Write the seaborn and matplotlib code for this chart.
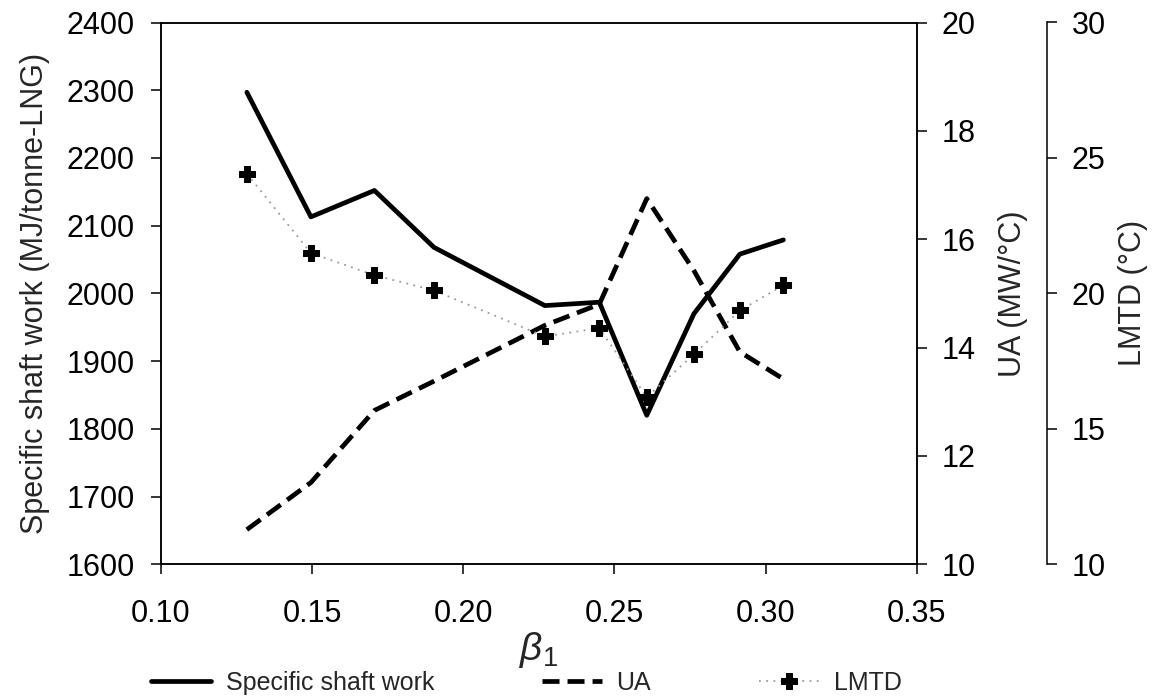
import matplotlib
matplotlib.use("Agg")
import matplotlib.pyplot as plt
import seaborn as sns
import pandas as pd

# ---- data ----
beta1 = [0.1284, 0.1496, 0.1706, 0.1903, 0.2270, 0.2450, 0.2607, 0.2763, 0.2915, 0.3059]
shaft_work = [2297, 2113, 2152, 2068, 1982, 1987, 1820, 1970, 2058, 2079]
ua = [10.64, 11.51, 12.84, 13.38, 14.41, 14.80, 16.75, 15.42, 13.92, 13.42]
lmtd = [24.42, 21.49, 20.67, 20.11, 18.41, 18.72, 16.17, 17.75, 19.37, 20.30]

x_ticks = [0.10, 0.15, 0.20, 0.25, 0.30, 0.35]
left_ticks = [1600, 1700, 1800, 1900, 2000, 2100, 2200, 2300, 2400]
ua_ticks = [10, 12, 14, 16, 18, 20]
lmtd_ticks = [10, 15, 20, 25, 30]

df = pd.DataFrame({"beta1": beta1, "shaft": shaft_work, "ua": ua, "lmtd": lmtd})

sns.set_style("ticks")
plt.rcParams["font.family"] = ["Liberation Sans", "DejaVu Sans"]
plt.rcParams["mathtext.fontset"] = "custom"
plt.rcParams["mathtext.it"] = "Liberation Sans:italic"
plt.rcParams["mathtext.rm"] = "Liberation Sans"

fs = 22
fig = plt.figure(figsize=(11.56, 7.0), dpi=100)
ax = fig.add_axes([161 / 1156, 1 - 564.3 / 700, (916.7 - 161) / 1156, (564.3 - 22.5) / 700])
ax2 = ax.twinx()
ax3 = ax.twinx()
ax3.spines["right"].set_position(("axes", (1046.7 - 161) / (916.7 - 161)))

sns.lineplot(data=df, x="beta1", y="shaft", ax=ax, color="black", lw=3.4,
             label="Specific shaft work", legend=False)
sns.lineplot(data=df, x="beta1", y="ua", ax=ax2, color="black", lw=3.4,
             label="UA", legend=False)
ax2.lines[0].set_dashes([3.6, 1.7])
ax2.lines[0].set_dash_capstyle("butt")
sns.lineplot(data=df, x="beta1", y="lmtd", ax=ax3, color="#9a9a9a", lw=1.3,
             label="LMTD", legend=False, marker="P", markersize=12,
             markerfacecolor="black", markeredgecolor="black")
ax3.lines[0].set_linestyle((0, (1, 3)))

ax.set_xlim(0.10, 0.35)
ax.set_ylim(1600, 2400)
ax2.set_ylim(10, 20)
ax3.set_ylim(10, 30)
ax.set_xticks(x_ticks)
ax.set_xticklabels([f"{v:.2f}" for v in x_ticks])
ax.set_yticks(left_ticks)
ax2.set_yticks(ua_ticks)
ax3.set_yticks(lmtd_ticks)

for a in (ax, ax2, ax3):
    a.tick_params(labelsize=fs, length=7, width=1.1, direction="out", colors="black")
    for s in a.spines.values():
        s.set_linewidth(1.1)
        s.set_color("black")
ax.tick_params(axis="x", pad=18)
ax.tick_params(axis="y", pad=12)
ax2.tick_params(axis="y", pad=11)
ax3.tick_params(axis="y", pad=11)
for s in ("left", "top", "bottom"):
    ax3.spines[s].set_visible(False)

ax.set_xlabel(r"$\beta_{\mathit{1}}$", fontsize=28, labelpad=1)
ax.set_ylabel("Specific shaft work (MJ/tonne-LNG)", fontsize=fs, labelpad=12)
ax2.set_ylabel("UA (MW/°C)", fontsize=fs, labelpad=16)
ax3.set_ylabel("LMTD (°C)", fontsize=fs, labelpad=9)

handles = ax.lines[:1] + ax2.lines[:1] + ax3.lines[:1]
labels = ["Specific shaft work", "UA", "LMTD"]
fig.legend(handles, labels, loc="center", bbox_to_anchor=(526 / 1156, 1 - 682.7 / 700),
           ncol=3, frameon=False, fontsize=18, handlelength=2.4, handletextpad=0.6,
           columnspacing=4.3, borderpad=0)

fig.savefig("out.png", dpi=100)
